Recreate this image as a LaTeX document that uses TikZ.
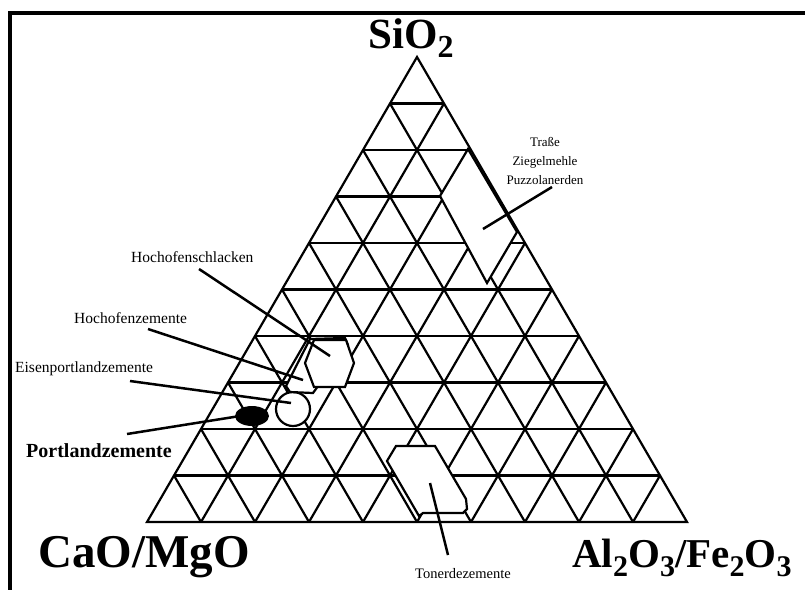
\documentclass[tikz,border=0pt]{standalone}
\usepackage{fontspec}
\setmainfont{Liberation Serif}
\newcommand{\dnsub}[2]{\raisebox{-9pt}{\fontsize{#1}{#1}\selectfont #2}}
\begin{document}
\begin{tikzpicture}[x=1pt,y=-1pt,line join=miter,
  gridline/.style={line width=2.2pt},
  region/.style={draw,line width=2.2pt,fill=white},
  leader/.style={line width=2.5pt},
  frameline/.style={line width=4pt},
  smalllabel/.style={font=\fontsize{15.5}{18}\selectfont,inner sep=0pt,anchor=base west},
  tinylabel/.style={font=\fontsize{13}{19}\selectfont,inner sep=0pt},
  biglabel/.style={font=\fontsize{41}{44}\selectfont\bfseries,inner sep=0pt,anchor=base west}]
\useasboundingbox (0,0) rectangle (805,590);
% frame
\coordinate (f1) at (8,13); \coordinate (f2) at (805,13);
\coordinate (f3) at (10,11); \coordinate (f4) at (10,590);
\draw[frameline] (f1) -- (f2);
\draw[frameline] (f3) -- (f4);
% triangle grid
\coordinate (A) at (147,522); \coordinate (B) at (687,522); \coordinate (C) at (417,57);
\foreach \i in {1,...,9} {
  \draw[gridline] ({147+27*\i},{522-46.5*\i}) -- ({687-27*\i},{522-46.5*\i});
  \draw[gridline] ({147+54*\i},522) -- ({147+54*\i+27*(10-\i)},{522-46.5*(10-\i)});
  \draw[gridline] ({147+54*\i},522) -- ({147+27*\i},{522-46.5*\i});
}
\draw[gridline] (A) -- (B) -- (C) -- cycle;
% regions
\draw[region] (468,149) -- (517,232) -- (487,283) -- (440,196) -- cycle;
\draw[region] (396,446) -- (435,446) -- (466,499) -- (467,509) -- (463,513) -- (423,513) -- (419,516) -- (387,461) -- cycle;
\draw[region] (293,409) circle[radius=17];
\draw[region] (310,339) -- (345,338) -- (348,345) -- (313,393) -- (290,392) -- (286,386) -- cycle;
\draw[region] (314,340) -- (346,340) -- (354,363) -- (345,387) -- (314,387) -- (305,363) -- cycle;
\fill (252,416) ellipse[x radius=17,y radius=10];
% labels
\node[biglabel,font=\fontsize{43}{44}\selectfont\bfseries] (si) at (368,48) {SiO\dnsub{32}{2}};
\node[biglabel,font=\fontsize{47}{48}\selectfont\bfseries] (ca) at (38,567) {CaO/MgO};
\node[biglabel] (al) at (572,567) {Al\dnsub{30}{2}O\dnsub{30}{3}/Fe\dnsub{30}{2}O\dnsub{30}{3}};
\node[smalllabel] (hs) at (131,262) {Hochofenschlacken};
\node[smalllabel] (hz) at (74,323) {Hochofenzemente};
\node[smalllabel] (ep) at (15,372.5) {Eisenportlandzemente};
\node[smalllabel,font=\fontsize{20}{22}\selectfont\bfseries] (pz) at (26,457) {Portlandzemente};
\node[tinylabel,align=center,anchor=base] (tr) at (545,184.5) {Traße\\Ziegelmehle\\Puzzolanerden};
\node[tinylabel,anchor=base,font=\fontsize{14.5}{17}\selectfont] (tz) at (463,578) {Tonerdezemente};
% leaders
\coordinate (hs1) at (199,269); \coordinate (hs2) at (330,356);
\coordinate (hz1) at (148,329); \coordinate (hz2) at (303,380);
\coordinate (ep1) at (130,381); \coordinate (ep2) at (291,403);
\coordinate (pz1) at (127,434); \coordinate (pz2) at (240,416);
\coordinate (tr1) at (552,187); \coordinate (tr2) at (483,229);
\coordinate (tz1) at (448,555); \coordinate (tz2) at (430,483);
\draw[leader] (hs1) -- (hs2);
\draw[leader] (hz1) -- (hz2);
\draw[leader] (ep1) -- (ep2);
\draw[leader] (pz1) -- (pz2);
\draw[leader] (tr1) -- (tr2);
\draw[leader] (tz1) -- (tz2);
\end{tikzpicture}
\end{document}
